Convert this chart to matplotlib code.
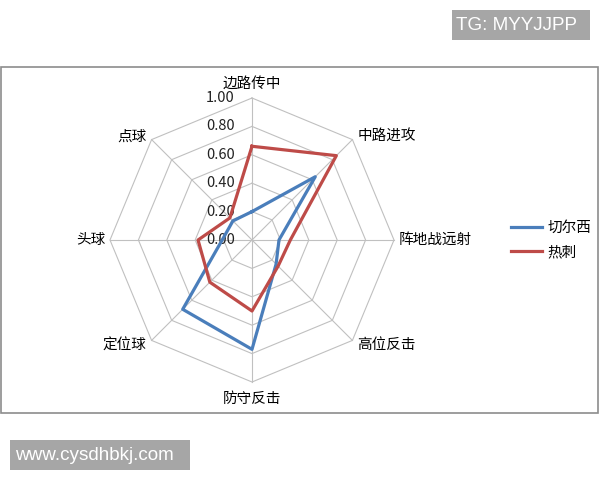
import matplotlib.pyplot as plt
import numpy as np
from matplotlib.patches import Rectangle

plt.rcParams['font.family'] = ['Noto Sans CJK SC', 'DejaVu Sans']

categories = ['边路传中', '中路进攻', '阵地战远射', '高位反击', '防守反击', '定位球', '头球', '点球']
chelsea = [0.20, 0.63, 0.19, 0.24, 0.77, 0.69, 0.21, 0.19]
spurs = [0.66, 0.84, 0.27, 0.26, 0.50, 0.42, 0.38, 0.22]
series_names = ['切尔西', '热刺']
rings = [0.2, 0.4, 0.6, 0.8, 1.0]
ring_labels = ['0.00', '0.20', '0.40', '0.60', '0.80', '1.00']

blue = '#4A7EBB'
red = '#BE4B48'
grid_c = '#C0C0C0'

n = len(categories)
theta = np.arange(n) * 2 * np.pi / n

fig = plt.figure(figsize=(6, 4.8), dpi=100)
# outer chart frame
fig.patches.append(Rectangle((1 / 600, 67 / 480), 597 / 600, 346 / 480,
                             transform=fig.transFigure, fill=False,
                             edgecolor='#8C8C8C', lw=1.2))

a = 1.5
ax = fig.add_axes([(252 - 142 * a) / 600, (240 - 142 * a) / 480,
                   284 * a / 600, 284 * a / 480])
ax.set_xlim(-a, a)
ax.set_ylim(-a, a)
ax.axis('off')


def xy(vals):
    v = np.append(vals, vals[0])
    t = np.append(theta, theta[0])
    return v * np.sin(t), v * np.cos(t)


# octagon grid
for r in rings:
    gx, gy = xy(np.full(n, r))
    ax.plot(gx, gy, color=grid_c, lw=0.8, zorder=1)
for t in theta:
    ax.plot([0, np.sin(t)], [0, np.cos(t)], color=grid_c, lw=0.8, zorder=1)

# radial value labels
for i, lab in enumerate(ring_labels):
    ax.text(-0.12, i * 0.2, lab, ha='right', va='center', fontsize=10.5,
            color='#222222', zorder=2)

# category labels
for t, lab in zip(theta, categories):
    s, c = np.sin(t), np.cos(t)
    if abs(s) < 1e-6:
        if c > 0:
            ax.text(0, 1.05, lab, ha='center', va='bottom', fontsize=10.5)
        else:
            ax.text(0, -1.07, lab, ha='center', va='top', fontsize=10.5)
    else:
        if c > 1e-6:
            dy = 0.02
        elif c < -1e-6:
            dy = -0.035
        else:
            dy = 0.0
        ax.text(s + 0.035 * np.sign(s), c + dy, lab,
                ha='left' if s > 0 else 'right', va='center', fontsize=10.5)

bx, by = xy(chelsea)
ax.plot(bx, by, color=blue, lw=2.3, zorder=3, label=series_names[0])
rx, ry = xy(spurs)
ax.plot(rx, ry, color=red, lw=2.3, zorder=3, label=series_names[1])

fig.legend(loc='center left', bbox_to_anchor=(498 / 600, 1 - 240 / 480),
           frameon=False, fontsize=10.5, handlelength=2.1, labelspacing=0.7,
           handletextpad=0.4)

# watermarks
fig.patches.append(Rectangle((452 / 600, 1 - 40 / 480), 138 / 600, 30 / 480,
                             transform=fig.transFigure, fc='#A6A6A6', ec='none'))
fig.text(456 / 600, 1 - 25 / 480, 'TG: MYYJJPP', color='white', fontsize=13.6,
         family='Liberation Sans', va='center', ha='left')
fig.patches.append(Rectangle((10 / 600, 1 - 470 / 480), 180 / 600, 30 / 480,
                             transform=fig.transFigure, fc='#A6A6A6', ec='none'))
fig.text(15 / 600, 1 - 455 / 480, 'www.cysdhbkj.com', color='white', fontsize=13.6,
         family='Liberation Sans', va='center', ha='left')

plt.savefig('out.png', dpi=100)
